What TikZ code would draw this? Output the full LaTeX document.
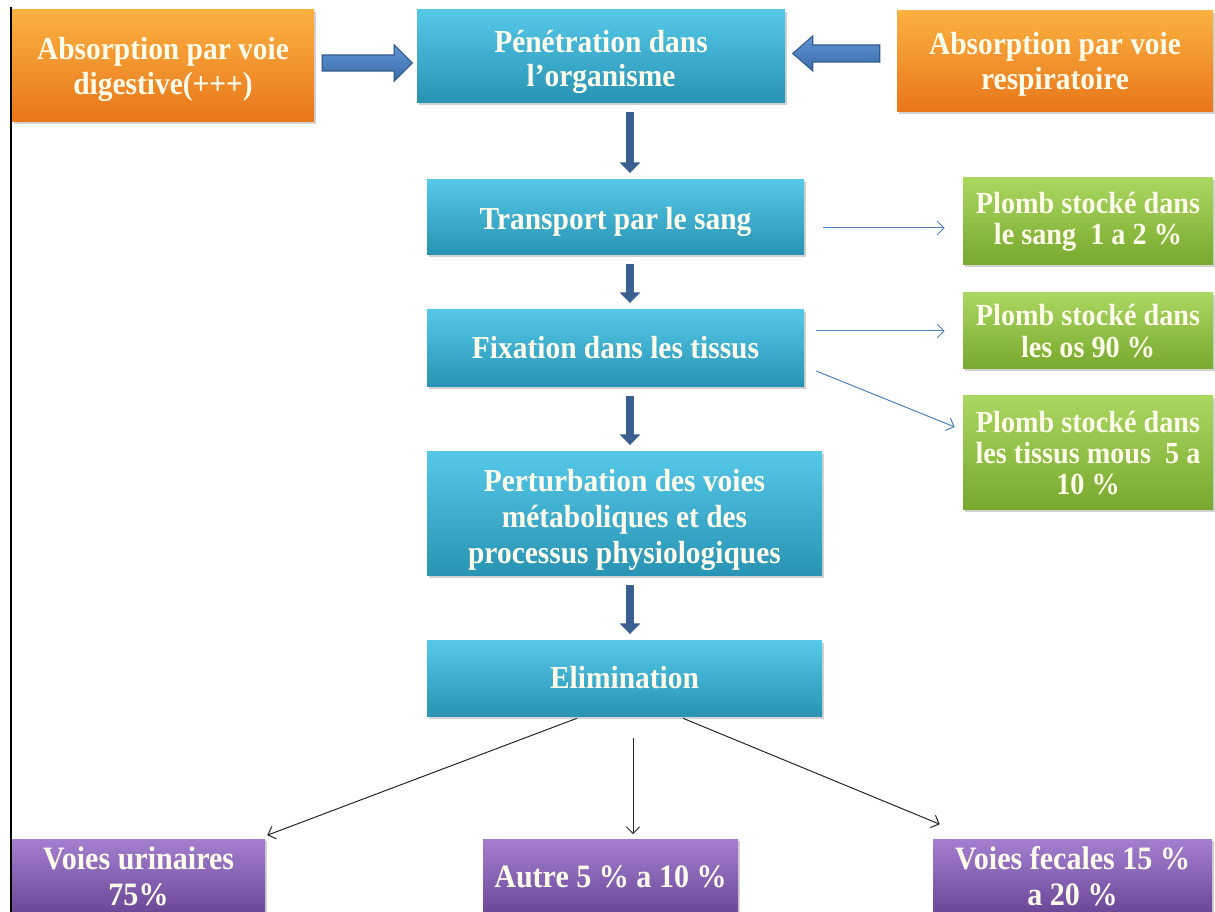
\documentclass[tikz,border=0pt]{standalone}
\usepackage{fontspec}
\setmainfont{Liberation Serif}
\newfontfamily\tallfont{Liberation Serif}[FakeStretch=0.92]
\usetikzlibrary{arrows.meta,shadows,calc}
\definecolor{blueT}{HTML}{55C8E8}
\definecolor{blueB}{HTML}{2893B3}
\definecolor{orT}{HTML}{FBB141}
\definecolor{orB}{HTML}{E8761A}
\definecolor{grT}{HTML}{AAD760}
\definecolor{grB}{HTML}{78A82E}
\definecolor{puT}{HTML}{A47FD0}
\definecolor{puB}{HTML}{6A4796}
\definecolor{cream}{HTML}{FFFCEB}
\definecolor{arT}{HTML}{6095D6}
\definecolor{arB}{HTML}{3C6CAA}
\definecolor{arE}{HTML}{355A8A}
\definecolor{darr}{HTML}{3A5F90}
\definecolor{thinb}{HTML}{4F81BD}
% lowered multi-line text block
\newcommand{\lw}[2][3.75pt]{\raisebox{-#1}[\height][\depth]{\begin{tabular}{@{}c@{}}#2\end{tabular}}}
\begin{document}
\begin{tikzpicture}[x=0.75pt,y=-0.75pt,
  box/.style={inner sep=2pt, align=center, text=cream,
    font=\tallfont\bfseries\fontsize{24}{26}\selectfont,
    drop shadow={opacity=0.35, shadow xshift=1.5pt, shadow yshift=-1.8pt}},
  bluebox/.style={box, top color=blueT, bottom color=blueB},
  orbox/.style={box, top color=orT, bottom color=orB},
  grbox/.style={box, top color=grT, bottom color=grB, font=\tallfont\bfseries\fontsize{23}{23.5}\selectfont},
  pubox/.style={box, top color=puT, bottom color=puB, font=\tallfont\bfseries\fontsize{24.5}{27}\selectfont},
  downarrow/.style={draw=darr, line width=6pt,
    -{Triangle[width=15pt,length=8pt]}, shorten <=6.5pt, shorten >=5pt},
  blockarrow/.style={draw=arE, line width=0.8pt, top color=arT, bottom color=arB},
  thinarrow/.style={draw=thinb, line width=0.75pt, -{Straight Barb[length=5pt,width=10pt]}},
  blackarrow/.style={draw=black!85, line width=0.75pt, -{Straight Barb[length=5pt,width=10pt]}}]
\clip (0,0) rectangle (1215,912);
\useasboundingbox (0,0) rectangle (1215,912);
\fill[white] (0,0) rectangle (1215,912);

% left border line
\draw[black, line width=2pt] (11,7) -- (11,912);

% top row
\node[orbox, minimum width=0.75*302pt, minimum height=0.75*112pt] (dig) at (163,66)
  {\lw[3pt]{Absorption par voie\\digestive(+++)}};
\node[bluebox, minimum width=0.75*368pt, minimum height=0.75*93pt] (pen) at (601,56.5)
  {\lw[4.5pt]{Pénétration dans\\l’organisme}};
\node[orbox, minimum width=0.75*316pt, minimum height=0.75*101pt] (resp) at (1055,61.5)
  {\lw[2.5pt]{Absorption par voie\\respiratoire}};

% central column
\node[bluebox, minimum width=0.75*377pt, minimum height=0.75*75pt] (trans) at (615.5,217.5)
  {\lw{Transport par le sang}};
\node[bluebox, minimum width=0.75*377pt, minimum height=0.75*77pt] (fix) at (615.5,348.5)
  {\lw[2.5pt]{Fixation dans les tissus}};
\node[bluebox, minimum width=0.75*395pt, minimum height=0.75*124pt,
  font=\tallfont\bfseries\fontsize{24}{27}\selectfont] (pert) at (624.5,514)
  {\lw[4.5pt]{Perturbation des voies\\métaboliques et des\\processus physiologiques}};
\node[bluebox, minimum width=0.75*395pt, minimum height=0.75*76pt] (elim) at (624.5,679)
  {\lw[2pt]{Elimination}};

% green boxes
\node[grbox, minimum width=0.75*250pt, minimum height=0.75*87pt] (g1) at (1088,221.5)
  {Plomb stocké dans\\le sang~~1 a 2 \%};
\node[grbox, minimum width=0.75*250pt, minimum height=0.75*76pt] (g2) at (1088,331)
  {Plomb stocké dans\\les os 90 \%};
\node[grbox, minimum width=0.75*250pt, minimum height=0.75*114pt] (g3) at (1088,453)
  {Plomb stocké dans\\les tissus mous~~5 a\\10 \%};

% purple boxes
\node[pubox, minimum width=0.75*253pt, minimum height=0.75*75pt] (urin) at (138.5,876.5)
  {Voies urinaires\\75\%};
\node[pubox, minimum width=0.75*255pt, minimum height=0.75*75pt] (autre) at (610.5,876.5)
  {\lw[2.5pt]{Autre 5 \% a 10 \%}};
\node[pubox, minimum width=0.75*279pt, minimum height=0.75*75pt] (fec) at (1072.5,876.5)
  {Voies fecales 15 \%\\a 20 \%};

% block arrows (top row)
\draw[blockarrow] ($(dig.east)+(8,-11)$) -- ++(72,0) -- ++(0,-10) -- ++(18,18)
  -- ++(-18,18) -- ++(0,-10) -- ++(-72,0) -- cycle;
\draw[blockarrow] ($(resp.west)+(-17,-16.5)$) -- ++(-67,0) -- ++(0,-9) -- ++(-20,17.5)
  -- ++(20,17.5) -- ++(0,-9) -- ++(67,0) -- cycle;

% down arrows
\coordinate (xa) at (630,0);
\draw[downarrow] (pen.south -| xa) -- (trans.north -| xa);
\draw[downarrow] (trans.south -| xa) -- (fix.north -| xa);
\draw[downarrow] (fix.south -| xa) -- (pert.north -| xa);
\draw[downarrow] (pert.south -| xa) -- (elim.north -| xa);

% thin blue arrows to storage
\draw[thinarrow] ($(trans.east)+(19,10.5)$) -- ($(g1.west)+(-18,6.5)$);
\draw[thinarrow] ($(fix.east)+(12,-17.5)$) -- ($(g2.west)+(-18,0)$);
\draw[thinarrow] ($(fix.east)+(12,22.5)$) -- ($(g3.west)+(-8,-26)$);

% black arrows to elimination routes
\draw[blackarrow] ($(elim.south)+(-47.5,1)$) -- ($(urin.north east)+(2,-3.5)$);
\draw[blackarrow] ($(elim.south)+(8.5,21)$) -- ($(autre.north)+(22.5,-4.5)$);
\draw[blackarrow] ($(elim.south)+(58.5,1)$) -- ($(fec.north west)+(7,-14.5)$);
\end{tikzpicture}
\end{document}
